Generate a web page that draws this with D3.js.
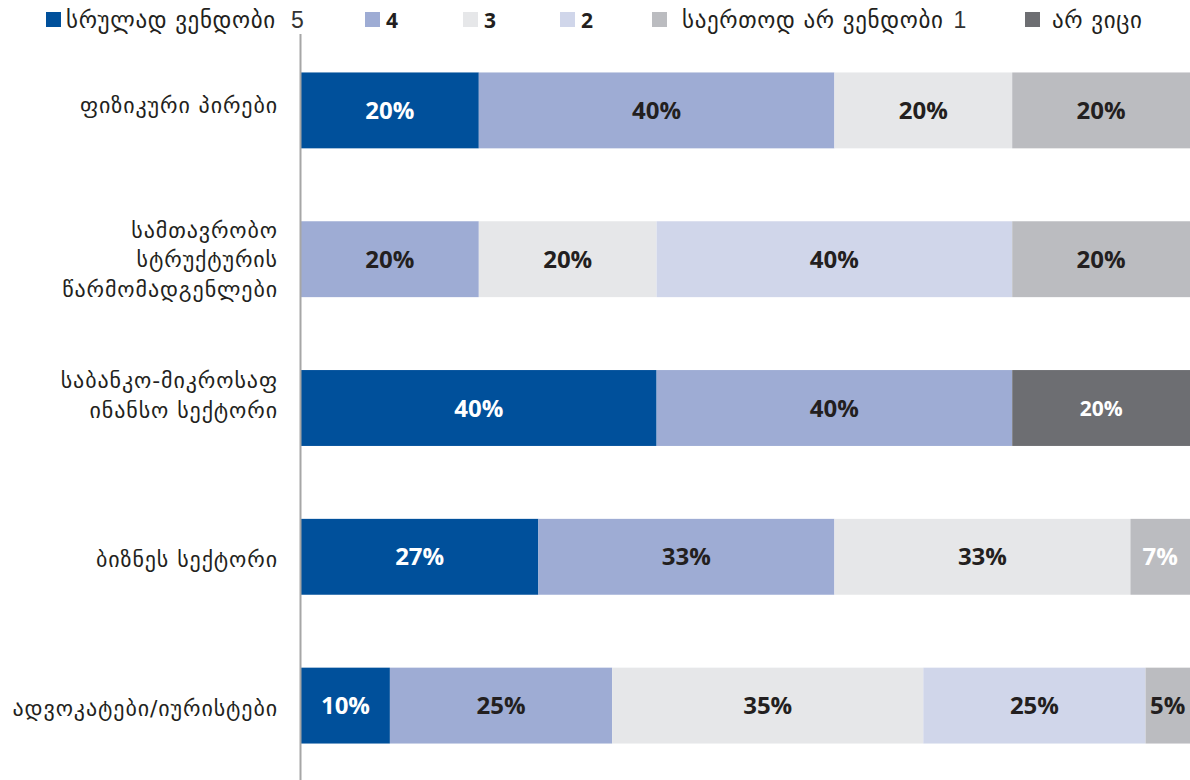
<!DOCTYPE html>
<html><head><meta charset="utf-8">
<script src="https://cdn.jsdelivr.net/npm/d3@7"></script>
<style>html,body{margin:0;padding:0;background:#fff;}svg{display:block;}</style>
</head><body>
<svg id="c" width="1190" height="780"></svg>
<script>
const categories = [
  ["ფიზიკური პირები"],
  ["სამთავრობო", "სტრუქტურის", "წარმომადგენლები"],
  ["საბანკო-მიკროსაფ", "ინანსო სექტორი"],
  ["ბიზნეს სექტორი"],
  ["ადვოკატები/იურისტები"]
];
const seriesNames = ["სრულად ვენდობი", "4", "3", "2", "საერთოდ არ ვენდობი", "არ ვიცი"];
const seriesSuffix = ["5", "", "", "", "1", ""];
const colors = ["#00509b", "#9eacd4", "#e6e7e9", "#d0d6ea", "#bbbcc0", "#6d6e72"];
const s5 = [20, 0, 40, 26.7, 10];
const s4 = [40, 20, 40, 33.3, 25];
const s3 = [20, 20, 0, 33.3, 35];
const s2 = [0, 40, 0, 0, 25];
const s1 = [20, 20, 0, 6.7, 5];
const sDK = [0, 0, 20, 0, 0];
const series = [s5, s4, s3, s2, s1, sDK];
// label colours per segment (white or dark)
const labelWhite = [
  [true,false,false,false,false,true],
  [true,false,false,false,false,true],
  [true,false,false,false,false,true],
  [true,false,false,false,true,true],
  [true,false,false,false,false,true]
];

const svg = d3.select("#c");
const geo = "'DejaVu Sans', sans-serif";
const num = "'Open Sans', 'Lato', sans-serif";

const x = d3.scaleLinear().domain([0, 100]).range([301, 1190]);
const y = d3.scaleBand().domain(d3.range(categories.length)).range([36, 780]).paddingInner(0.49).paddingOuter(0.245);

const rows = categories.map((c, i) => {
  let acc = 0;
  return series.map((s, k) => { const v = s[i]; const seg = {i, k, x0: acc, x1: acc + v, v}; acc += v; return seg; });
});

const g = svg.append("g");
rows.forEach(r => {
  r.filter(d => d.v > 0).forEach(d => {
    g.append("rect")
      .attr("x", x(d.x0)).attr("width", x(d.x1) - x(d.x0))
      .attr("y", y(d.i)).attr("height", y.bandwidth())
      .attr("fill", colors[d.k]);
    g.append("text")
      .attr("x", (x(d.x0) + x(d.x1)) / 2)
      .attr("y", y(d.i) + y.bandwidth() / 2)
      .attr("dy", "0.36em")
      .attr("text-anchor", "middle")
      .attr("font-family", num).attr("font-weight", 700)
      .attr("font-size", d.k === 5 ? 21 : 24)
      .attr("fill", labelWhite[d.i][d.k] ? "#ffffff" : "#231f20")
      .text(Math.round(d.v) + "%");
  });
});

// axis line
svg.append("line").attr("x1", 300.5).attr("x2", 300.5).attr("y1", 34).attr("y2", 780)
  .attr("stroke", "#a6a6a6").attr("stroke-width", 2);

// category labels (small per-row vertical nudges as in the original)
const labelNudge = [-5, 0, -13, 2, 2];
categories.forEach((lines, i) => {
  const cy = y(i) + y.bandwidth() / 2 + labelNudge[i];
  const lh = 29.5;
  const t = svg.append("text").attr("text-anchor", "end")
    .attr("font-family", geo).attr("font-size", 22).attr("letter-spacing", "0.9px").attr("fill", "#231f20");
  lines.forEach((ln, j) => {
    t.append("tspan").attr("x", 278)
      .attr("y", cy + (j - (lines.length - 1) / 2) * lh)
      .attr("dy", "0.36em").text(ln);
  });
});

// legend
const legX = [46, 365, 463, 560, 652, 1025];
const legTextX = [66, 386, 484, 581, 682, 1052];
const leg = svg.append("g");
seriesNames.forEach((n, k) => {
  leg.append("rect").attr("x", legX[k]).attr("y", 12).attr("width", 15).attr("height", 15).attr("fill", colors[k]);
  const isNum = /^\d$/.test(n);
  const t = leg.append("text").attr("x", legTextX[k]).attr("y", 20).attr("dy", "0.36em")
    .attr("fill", "#231f20")
    .style("font-size", (isNum ? 21 : 23) + "px")
    .style("letter-spacing", isNum ? "0px" : "0.65px")
    .attr("font-family", isNum ? num : geo).attr("font-weight", isNum ? 700 : 400);
  t.text(n);
  if (seriesSuffix[k]) {
    t.append("tspan").attr("font-family", "'Liberation Sans', sans-serif")
      .style("font-size", "23px").style("letter-spacing", "0px")
      .attr("fill", "#333")
      .attr("dx", k === 0 ? 15 : 10).text(seriesSuffix[k]);
  }
});
</script>
</body></html>
